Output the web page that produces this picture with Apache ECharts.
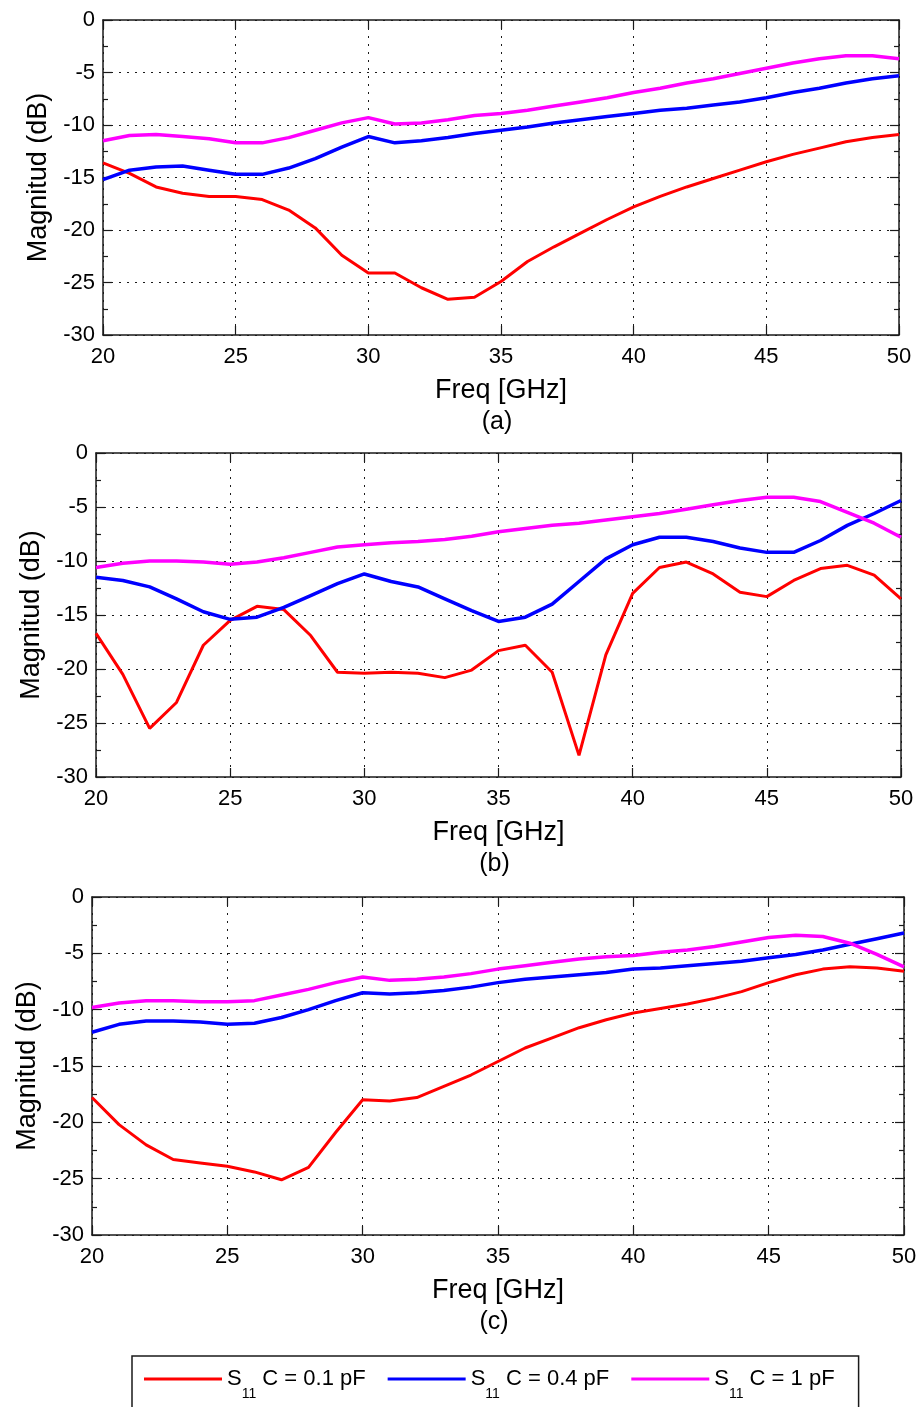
<!DOCTYPE html>
<html>
<head>
<meta charset="utf-8">
<title>S11 magnitude</title>
<script src="https://cdn.jsdelivr.net/npm/echarts@6/dist/echarts.min.js"></script>
<style>
  html, body { margin: 0; padding: 0; background: #fff; }
  #chart { width: 920px; height: 1407px; }
</style>
</head>
<body>
<div id="chart"></div>
<script>
// frequency samples (GHz)
const freq = [20, 21, 22, 23, 24, 25, 26, 27, 28, 29, 30, 31, 32, 33, 34, 35, 36, 37, 38, 39, 40, 41, 42, 43, 44, 45, 46, 47, 48, 49, 50]

// panel (a)
const aRed = [-13.6, -14.6, -15.9, -16.5, -16.8, -16.8, -17.1, -18.1, -19.8, -22.4, -24.1, -24.1, -25.5, -26.6, -26.4, -24.9, -23.0, -21.6, -20.3, -19.0, -17.8, -16.8, -15.9, -15.1, -14.3, -13.5, -12.8, -12.2, -11.6, -11.2, -10.9]
const aBlue = [-15.2, -14.3, -14.0, -13.9, -14.3, -14.7, -14.7, -14.1, -13.2, -12.1, -11.1, -11.7, -11.5, -11.2, -10.8, -10.5, -10.2, -9.8, -9.5, -9.2, -8.9, -8.6, -8.4, -8.1, -7.8, -7.4, -6.9, -6.5, -6.0, -5.6, -5.3]
const aMag = [-11.5, -11.0, -10.9, -11.1, -11.3, -11.7, -11.7, -11.2, -10.5, -9.8, -9.3, -9.9, -9.8, -9.5, -9.1, -8.9, -8.6, -8.2, -7.8, -7.4, -6.9, -6.5, -6.0, -5.6, -5.1, -4.6, -4.1, -3.7, -3.4, -3.4, -3.7]

// panel (b)
const bRed = [-16.7, -20.5, -25.5, -23.1, -17.8, -15.5, -14.2, -14.5, -16.9, -20.3, -20.4, -20.3, -20.4, -20.8, -20.1, -18.3, -17.8, -20.3, -28.0, -18.7, -13.0, -10.6, -10.1, -11.2, -12.9, -13.3, -11.8, -10.7, -10.4, -11.3, -13.5]
const bBlue = [-11.5, -11.8, -12.4, -13.5, -14.7, -15.4, -15.2, -14.3, -13.2, -12.1, -11.2, -11.9, -12.4, -13.5, -14.6, -15.6, -15.2, -14.0, -11.9, -9.8, -8.5, -7.8, -7.8, -8.2, -8.8, -9.2, -9.2, -8.1, -6.7, -5.6, -4.4]
const bMag = [-10.6, -10.2, -10.0, -10.0, -10.1, -10.3, -10.1, -9.7, -9.2, -8.7, -8.5, -8.3, -8.2, -8.0, -7.7, -7.3, -7.0, -6.7, -6.5, -6.2, -5.9, -5.6, -5.2, -4.8, -4.4, -4.1, -4.1, -4.5, -5.5, -6.5, -7.8]

// panel (c)
const cRed = [-17.8, -20.2, -22.0, -23.3, -23.6, -23.9, -24.4, -25.1, -24.0, -20.9, -18.0, -18.1, -17.8, -16.8, -15.8, -14.6, -13.4, -12.5, -11.6, -10.9, -10.3, -9.9, -9.5, -9.0, -8.4, -7.6, -6.9, -6.4, -6.2, -6.3, -6.6]
const cBlue = [-12.0, -11.3, -11.0, -11.0, -11.1, -11.3, -11.2, -10.7, -10.0, -9.2, -8.5, -8.6, -8.5, -8.3, -8.0, -7.6, -7.3, -7.1, -6.9, -6.7, -6.4, -6.3, -6.1, -5.9, -5.7, -5.4, -5.1, -4.7, -4.2, -3.7, -3.2]
const cMag = [-9.8, -9.4, -9.2, -9.2, -9.3, -9.3, -9.2, -8.7, -8.2, -7.6, -7.1, -7.4, -7.3, -7.1, -6.8, -6.4, -6.1, -5.8, -5.5, -5.3, -5.2, -4.9, -4.7, -4.4, -4.0, -3.6, -3.4, -3.5, -4.1, -5.1, -6.2]

const seriesNames = ['S11 C = 0.1 pF', 'S11 C = 0.4 pF', 'S11 C = 1 pF']
const captions = ['(a)', '(b)', '(c)']
const xTitle = 'Freq [GHz]'
const yTitle = 'Magnitud (dB)'

const panelData = [
  [aRed, aBlue, aMag],
  [bRed, bBlue, bMag],
  [cRed, cBlue, cMag]
]

const FONT = '"Liberation Sans", Arial, Helvetica, sans-serif'
const INK = '#1a1a1a'
const colors = ['#ff0000', '#0000ff', '#ff00ff']
const widths = [3, 3.5, 3.5]

// where each subplot sits on the page
const layout = [
  { left: 103, top: 20, width: 796, height: 315, captionTop: 410 },
  { left: 96, top: 453, width: 805, height: 324, captionTop: 852 },
  { left: 92, top: 897, width: 812, height: 338, captionTop: 1310 }
]

const lineAxis = { onZero: false, lineStyle: { color: INK, width: 1.5 } }
const tickStyle = { color: INK, width: 1.2 }

const grids = []
const xAxes = []
const yAxes = []
const series = []
const titles = []

layout.forEach((p, i) => {
  grids.push({ left: p.left, top: p.top, width: p.width, height: p.height })

  // bottom x axis with labels
  xAxes.push({
    gridIndex: i,
    type: 'value',
    position: 'bottom',
    min: 20,
    max: 50,
    interval: 5,
    name: xTitle,
    nameLocation: 'middle',
    nameGap: 42,
    nameTextStyle: { fontSize: 27, color: '#000', fontFamily: FONT },
    axisLine: lineAxis,
    axisTick: { inside: true, length: 9, lineStyle: tickStyle },
    axisLabel: { margin: 11, fontSize: 22, color: '#000', fontFamily: FONT },
    splitLine: { show: true, lineStyle: { color: INK, width: 1, type: [2, 6] } }
  })
  // top x axis, ticks only
  xAxes.push({
    gridIndex: i,
    type: 'value',
    position: 'top',
    min: 20,
    max: 50,
    interval: 5,
    axisLine: lineAxis,
    axisTick: { inside: true, length: 9, lineStyle: tickStyle },
    axisLabel: { show: false },
    splitLine: { show: false }
  })

  // left y axis with labels
  yAxes.push({
    gridIndex: i,
    type: 'value',
    position: 'left',
    min: -30,
    max: 0,
    interval: 5,
    name: yTitle,
    nameLocation: 'middle',
    nameGap: 50,
    nameTextStyle: { fontSize: 27, color: '#000', fontFamily: FONT },
    axisLine: lineAxis,
    axisTick: { inside: true, length: 9, lineStyle: tickStyle },
    minorTick: { show: true, splitNumber: 2, length: 5, lineStyle: tickStyle },
    axisLabel: { margin: 8, fontSize: 22, color: '#000', fontFamily: FONT },
    splitLine: { show: true, lineStyle: { color: INK, width: 1, type: [2, 6] } }
  })
  // right y axis, ticks only
  yAxes.push({
    gridIndex: i,
    type: 'value',
    position: 'right',
    min: -30,
    max: 0,
    interval: 5,
    axisLine: lineAxis,
    axisTick: { inside: true, length: 9, lineStyle: tickStyle },
    minorTick: { show: true, splitNumber: 2, length: 5, lineStyle: tickStyle },
    axisLabel: { show: false },
    splitLine: { show: false }
  })

  panelData[i].forEach((vals, k) => {
    series.push({
      name: seriesNames[k],
      type: 'line',
      xAxisIndex: i * 2,
      yAxisIndex: i * 2,
      showSymbol: false,
      data: freq.map((f, j) => [f, vals[j]]),
      lineStyle: { color: colors[k], width: widths[k] },
      itemStyle: { color: colors[k] }
    })
  })

  titles.push({
    text: captions[i],
    left: p.left + p.width / 2 - 4,
    top: p.captionTop,
    textAlign: 'center',
    padding: 0,
    textStyle: { fontSize: 25, fontWeight: 'normal', color: '#000', fontFamily: FONT }
  })
})

const chart = echarts.init(document.getElementById('chart'))

chart.setOption({
  animation: false,
  backgroundColor: '#fff',
  title: titles,
  grid: grids,
  xAxis: xAxes,
  yAxis: yAxes,
  legend: {
    left: 132,
    top: 1356,
    padding: [12, 24, 24, 12],
    borderColor: INK,
    borderWidth: 1.5,
    icon: 'rect',
    itemWidth: 78,
    itemHeight: 3,
    itemGap: 22,
    data: seriesNames,
    formatter: name => '{s|S}{sub|11}{t|' + name.slice(3) + '}',
    textStyle: {
      color: '#000',
      fontFamily: FONT,
      rich: {
        s: { fontSize: 22, lineHeight: 44, color: '#000', fontFamily: FONT },
        sub: { fontSize: 14, lineHeight: 2, verticalAlign: 'bottom', color: '#000', fontFamily: FONT },
        t: { fontSize: 22, lineHeight: 44, color: '#000', fontFamily: FONT }
      }
    }
  },
  series: series
})
</script>
</body>
</html>
